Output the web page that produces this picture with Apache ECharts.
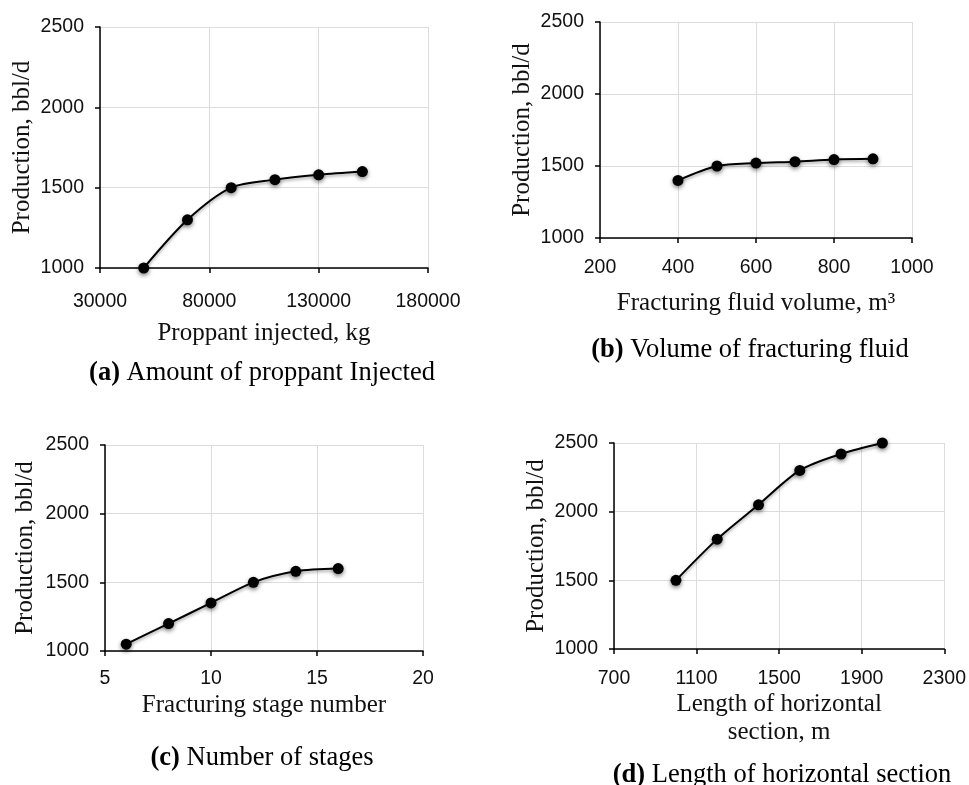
<!DOCTYPE html>
<html>
<head>
<meta charset="utf-8">
<script src="https://cdn.jsdelivr.net/npm/echarts@6/dist/echarts.min.js"></script>
<style>
  html, body { margin: 0; padding: 0; background: #fff; }
  #main { width: 969px; height: 785px; }
</style>
</head>
<body>
<div id="main"></div>
<script>
// (a) proppant
var proppantX = [50000, 70000, 90000, 110000, 130000, 150000];
var proppantY = [1000, 1300, 1500, 1550, 1580, 1600];
// (b) fracturing fluid volume
var fluidX = [400, 500, 600, 700, 800, 900];
var fluidY = [1400, 1500, 1520, 1530, 1545, 1550];
// (c) stages
var stageX = [6, 8, 10, 12, 14, 16];
var stageY = [1050, 1200, 1350, 1500, 1580, 1600];
// (d) horizontal length
var lengthX = [1000, 1200, 1400, 1600, 1800, 2000];
var lengthY = [1500, 1800, 2050, 2300, 2420, 2500];

var yName = 'Production, bbl/d';
var xNames = ['Proppant injected, kg', 'Fracturing fluid volume, m\u00b3', 'Fracturing stage number', 'Length of horizontal\nsection, m'];
var captions = [['(a)', ' Amount of proppant Injected'], ['(b)', ' Volume of fracturing fluid'], ['(c)', ' Number of stages'], ['(d)', ' Length of horizontal section']];

var xRanges = [[30000, 180000, 50000], [200, 1000, 200], [5, 20, 5], [700, 2300, 400]];

var grids = [
    { left: 100, top: 27, width: 328, height: 241 },
    { left: 600, top: 22, width: 312, height: 216 },
    { left: 105, top: 445, width: 318, height: 206 },
    { left: 614, top: 443, width: 331, height: 206 }
];
var xNameGap = [51, 51, 40, 41];
var xLabelMargin = [24, 20, 18, 20];
var yNameGap = [63, 60, 66, 61];
var capPos = [[262, 373], [750, 350], [262, 758], [782, 775]];

var pairs = [[proppantX, proppantY], [fluidX, fluidY], [stageX, stageY], [lengthX, lengthY]];

var labelFont = { color: '#111', fontFamily: 'Liberation Sans', fontSize: 19.5 };
var nameFont = { color: '#111', fontFamily: 'Liberation Serif', fontSize: 25, lineHeight: 28 };

function plain(v) { return String(v); }

var xAxes = [], yAxes = [], series = [], graphics = [];
for (var i = 0; i < 4; i++) {
    xAxes.push({
        gridIndex: i,
        type: 'value',
        min: xRanges[i][0],
        max: xRanges[i][1],
        interval: xRanges[i][2],
        name: xNames[i],
        nameLocation: 'middle',
        nameGap: xNameGap[i],
        nameTextStyle: nameFont,
        axisLine: { show: true, lineStyle: { color: '#000', width: 1.5 } },
        axisTick: { show: true, length: 5, lineStyle: { color: '#000', width: 1.5 } },
        axisLabel: Object.assign({ margin: xLabelMargin[i], formatter: plain }, labelFont),
        splitLine: { show: true, lineStyle: { color: '#dcdcdc', width: 1 } }
    });
    yAxes.push({
        gridIndex: i,
        type: 'value',
        min: 1000,
        max: 2500,
        interval: 500,
        name: yName,
        nameLocation: 'middle',
        nameGap: yNameGap[i],
        nameTextStyle: nameFont,
        axisLine: { show: true, lineStyle: { color: '#000', width: 1.5 } },
        axisTick: { show: true, length: 5, lineStyle: { color: '#000', width: 1.5 } },
        axisLabel: Object.assign({ margin: 16, formatter: plain }, labelFont),
        splitLine: { show: true, lineStyle: { color: '#dcdcdc', width: 1 } }
    });
    var d = [];
    for (var k = 0; k < pairs[i][0].length; k++) d.push([pairs[i][0][k], pairs[i][1][k]]);
    series.push({
        type: 'line',
        xAxisIndex: i,
        yAxisIndex: i,
        smooth: 0.3,
        symbol: 'circle',
        symbolSize: 11,
        lineStyle: { color: '#000', width: 2, shadowBlur: 3, shadowColor: 'rgba(0,0,0,0.35)', shadowOffsetY: 2 },
        itemStyle: { color: '#000', shadowBlur: 4, shadowColor: 'rgba(0,0,0,0.5)', shadowOffsetY: 2 },
        data: d
    });
    graphics.push({
        type: 'text',
        x: capPos[i][0],
        y: capPos[i][1],
        style: {
            text: '{b|' + captions[i][0] + '}' + captions[i][1],
            align: 'center',
            verticalAlign: 'middle',
            fill: '#000',
            fontFamily: 'Liberation Serif',
            fontSize: 26.5,
            rich: { b: { fontWeight: 'bold', fontFamily: 'Liberation Serif', fontSize: 26.5, fill: '#000' } }
        }
    });
}

var myChart = echarts.init(document.getElementById('main'));
myChart.setOption({
    backgroundColor: '#fff',
    animation: false,
    grid: grids,
    xAxis: xAxes,
    yAxis: yAxes,
    series: series,
    graphic: graphics
});
</script>
</body>
</html>
